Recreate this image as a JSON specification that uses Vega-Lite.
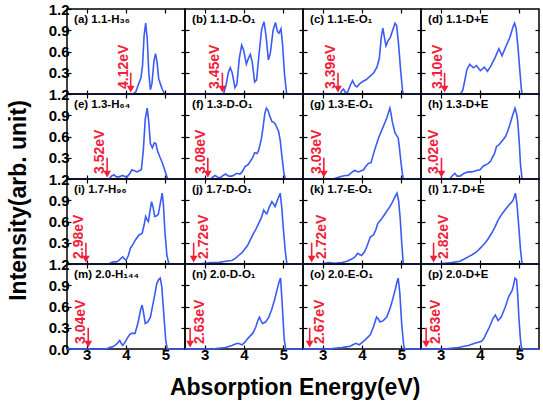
{
"$schema":"https://vega.github.io/schema/vega-lite/v6.json",
"padding":{"left":8,"top":1,"right":2,"bottom":4},
"datasets":{
"ann":[
{"p":"a","gap":4.12,"t":"4.12eV","n":"(a) 1.1-H₃₆"},
{"p":"b","gap":3.45,"t":"3.45eV","n":"(b) 1.1-D-O₁"},
{"p":"c","gap":3.39,"t":"3.39eV","n":"(c) 1.1-E-O₁"},
{"p":"d","gap":3.10,"t":"3.10eV","n":"(d) 1.1-D+E"},
{"p":"e","gap":3.52,"t":"3.52eV","n":"(e) 1.3-H₆₄"},
{"p":"f","gap":3.08,"t":"3.08eV","n":"(f) 1.3-D-O₁"},
{"p":"g","gap":3.03,"t":"3.03eV","n":"(g) 1.3-E-O₁"},
{"p":"h","gap":3.02,"t":"3.02eV","n":"(h) 1.3-D+E"},
{"p":"i","gap":2.98,"t":"2.98eV","n":"(i) 1.7-H₉₆"},
{"p":"j","gap":2.72,"t":"2.72eV","n":"(j) 1.7-D-O₁"},
{"p":"k","gap":2.72,"t":"2.72eV","n":"(k) 1.7-E-O₁"},
{"p":"l","gap":2.82,"t":"2.82eV","n":"(l) 1.7-D+E"},
{"p":"m","gap":3.04,"t":"3.04eV","n":"(m) 2.0-H₁₄₄"},
{"p":"n","gap":2.63,"t":"2.63eV","n":"(n) 2.0-D-O₁"},
{"p":"o","gap":2.67,"t":"2.67eV","n":"(o) 2.0-E-O₁"},
{"p":"p","gap":2.63,"t":"2.63eV","n":"(p) 2.0-D+E"}
],
"s":[
{"p":"a","e":2.5,"i":0},{"p":"a","e":4.18,"i":0},{"p":"a","e":4.25,"i":0.03},{"p":"a","e":4.32,"i":0.14},{"p":"a","e":4.38,"i":0.23},{"p":"a","e":4.42,"i":0.4},{"p":"a","e":4.46,"i":0.82},{"p":"a","e":4.5,"i":1.0},{"p":"a","e":4.54,"i":0.78},{"p":"a","e":4.58,"i":0.3},{"p":"a","e":4.62,"i":0.06},{"p":"a","e":4.66,"i":0.15},{"p":"a","e":4.71,"i":0.46},{"p":"a","e":4.75,"i":0.57},{"p":"a","e":4.79,"i":0.45},{"p":"a","e":4.83,"i":0.22},{"p":"a","e":4.87,"i":0.15},{"p":"a","e":4.92,"i":0.07},{"p":"a","e":4.98,"i":0},{"p":"a","e":5.5,"i":0},
{"p":"b","e":2.5,"i":0},{"p":"b","e":3.48,"i":0},{"p":"b","e":3.55,"i":0.14},{"p":"b","e":3.6,"i":0.3},{"p":"b","e":3.65,"i":0.37},{"p":"b","e":3.7,"i":0.3},{"p":"b","e":3.77,"i":0.09},{"p":"b","e":3.82,"i":0.14},{"p":"b","e":3.88,"i":0.5},{"p":"b","e":3.94,"i":0.69},{"p":"b","e":3.99,"i":0.62},{"p":"b","e":4.06,"i":0.42},{"p":"b","e":4.11,"i":0.5},{"p":"b","e":4.16,"i":0.56},{"p":"b","e":4.21,"i":0.45},{"p":"b","e":4.27,"i":0.17},{"p":"b","e":4.32,"i":0.2},{"p":"b","e":4.38,"i":0.55},{"p":"b","e":4.45,"i":0.92},{"p":"b","e":4.51,"i":1.02},{"p":"b","e":4.56,"i":0.82},{"p":"b","e":4.62,"i":0.48},{"p":"b","e":4.67,"i":0.58},{"p":"b","e":4.74,"i":0.9},{"p":"b","e":4.8,"i":1.01},{"p":"b","e":4.85,"i":0.88},{"p":"b","e":4.89,"i":0.86},{"p":"b","e":4.94,"i":0.92},{"p":"b","e":4.98,"i":0.7},{"p":"b","e":5.03,"i":0.28},{"p":"b","e":5.08,"i":0.02},{"p":"b","e":5.1,"i":0},{"p":"b","e":5.5,"i":0},
{"p":"c","e":2.5,"i":0},{"p":"c","e":3.44,"i":0},{"p":"c","e":3.49,"i":0.05},{"p":"c","e":3.53,"i":0.07},{"p":"c","e":3.58,"i":0.02},{"p":"c","e":3.63,"i":0.02},{"p":"c","e":3.7,"i":0.12},{"p":"c","e":3.76,"i":0.19},{"p":"c","e":3.82,"i":0.12},{"p":"c","e":3.87,"i":0.1},{"p":"c","e":3.95,"i":0.15},{"p":"c","e":4.03,"i":0.18},{"p":"c","e":4.1,"i":0.2},{"p":"c","e":4.2,"i":0.25},{"p":"c","e":4.3,"i":0.3},{"p":"c","e":4.38,"i":0.38},{"p":"c","e":4.44,"i":0.5},{"p":"c","e":4.49,"i":0.8},{"p":"c","e":4.53,"i":0.93},{"p":"c","e":4.57,"i":0.8},{"p":"c","e":4.61,"i":0.68},{"p":"c","e":4.66,"i":0.75},{"p":"c","e":4.72,"i":0.8},{"p":"c","e":4.78,"i":0.9},{"p":"c","e":4.84,"i":1.0},{"p":"c","e":4.88,"i":0.97},{"p":"c","e":4.93,"i":0.7},{"p":"c","e":4.98,"i":0.35},{"p":"c","e":5.03,"i":0.05},{"p":"c","e":5.05,"i":0},{"p":"c","e":5.5,"i":0},
{"p":"d","e":2.5,"i":0},{"p":"d","e":3.5,"i":0},{"p":"d","e":3.56,"i":0.05},{"p":"d","e":3.61,"i":0.18},{"p":"d","e":3.67,"i":0.35},{"p":"d","e":3.74,"i":0.42},{"p":"d","e":3.83,"i":0.37},{"p":"d","e":3.91,"i":0.4},{"p":"d","e":4.01,"i":0.33},{"p":"d","e":4.11,"i":0.38},{"p":"d","e":4.19,"i":0.32},{"p":"d","e":4.28,"i":0.4},{"p":"d","e":4.38,"i":0.51},{"p":"d","e":4.48,"i":0.64},{"p":"d","e":4.56,"i":0.54},{"p":"d","e":4.65,"i":0.66},{"p":"d","e":4.76,"i":0.8},{"p":"d","e":4.84,"i":0.95},{"p":"d","e":4.88,"i":1.0},{"p":"d","e":4.92,"i":0.92},{"p":"d","e":4.96,"i":0.7},{"p":"d","e":5.01,"i":0.35},{"p":"d","e":5.05,"i":0.08},{"p":"d","e":5.07,"i":0},{"p":"d","e":5.5,"i":0},
{"p":"e","e":2.5,"i":0},{"p":"e","e":3.57,"i":0},{"p":"e","e":3.63,"i":0.04},{"p":"e","e":3.69,"i":0.06},{"p":"e","e":3.76,"i":0.03},{"p":"e","e":3.82,"i":0.03},{"p":"e","e":3.92,"i":0.05},{"p":"e","e":4.02,"i":0.02},{"p":"e","e":4.1,"i":0.08},{"p":"e","e":4.15,"i":0.13},{"p":"e","e":4.28,"i":0.1},{"p":"e","e":4.39,"i":0.13},{"p":"e","e":4.44,"i":0.4},{"p":"e","e":4.49,"i":0.85},{"p":"e","e":4.54,"i":1.0},{"p":"e","e":4.58,"i":0.8},{"p":"e","e":4.62,"i":0.5},{"p":"e","e":4.67,"i":0.44},{"p":"e","e":4.72,"i":0.51},{"p":"e","e":4.76,"i":0.5},{"p":"e","e":4.8,"i":0.4},{"p":"e","e":4.87,"i":0.3},{"p":"e","e":4.93,"i":0.22},{"p":"e","e":5.0,"i":0.1},{"p":"e","e":5.06,"i":0},{"p":"e","e":5.5,"i":0},
{"p":"f","e":2.5,"i":0},{"p":"f","e":3.15,"i":0},{"p":"f","e":3.21,"i":0.03},{"p":"f","e":3.27,"i":0.05},{"p":"f","e":3.34,"i":0.02},{"p":"f","e":3.4,"i":0.02},{"p":"f","e":3.47,"i":0.05},{"p":"f","e":3.53,"i":0.07},{"p":"f","e":3.61,"i":0.04},{"p":"f","e":3.69,"i":0.04},{"p":"f","e":3.76,"i":0.06},{"p":"f","e":3.82,"i":0.08},{"p":"f","e":3.9,"i":0.07},{"p":"f","e":3.95,"i":0.1},{"p":"f","e":4.03,"i":0.18},{"p":"f","e":4.1,"i":0.2},{"p":"f","e":4.16,"i":0.25},{"p":"f","e":4.22,"i":0.3},{"p":"f","e":4.27,"i":0.37},{"p":"f","e":4.33,"i":0.36},{"p":"f","e":4.37,"i":0.4},{"p":"f","e":4.44,"i":0.56},{"p":"f","e":4.49,"i":0.75},{"p":"f","e":4.53,"i":0.93},{"p":"f","e":4.57,"i":1.0},{"p":"f","e":4.61,"i":0.97},{"p":"f","e":4.66,"i":0.88},{"p":"f","e":4.71,"i":0.81},{"p":"f","e":4.76,"i":0.8},{"p":"f","e":4.8,"i":0.77},{"p":"f","e":4.88,"i":0.67},{"p":"f","e":4.92,"i":0.55},{"p":"f","e":4.96,"i":0.34},{"p":"f","e":5.01,"i":0.1},{"p":"f","e":5.05,"i":0},{"p":"f","e":5.5,"i":0},
{"p":"g","e":2.5,"i":0},{"p":"g","e":3.27,"i":0},{"p":"g","e":3.38,"i":0.02},{"p":"g","e":3.49,"i":0.04},{"p":"g","e":3.58,"i":0.05},{"p":"g","e":3.65,"i":0.05},{"p":"g","e":3.73,"i":0.09},{"p":"g","e":3.81,"i":0.12},{"p":"g","e":3.91,"i":0.1},{"p":"g","e":4.04,"i":0.13},{"p":"g","e":4.1,"i":0.18},{"p":"g","e":4.16,"i":0.22},{"p":"g","e":4.23,"i":0.23},{"p":"g","e":4.31,"i":0.39},{"p":"g","e":4.42,"i":0.58},{"p":"g","e":4.54,"i":0.74},{"p":"g","e":4.63,"i":0.86},{"p":"g","e":4.68,"i":0.95},{"p":"g","e":4.71,"i":1.0},{"p":"g","e":4.74,"i":0.92},{"p":"g","e":4.77,"i":0.81},{"p":"g","e":4.84,"i":0.65},{"p":"g","e":4.92,"i":0.58},{"p":"g","e":4.95,"i":0.45},{"p":"g","e":4.98,"i":0.29},{"p":"g","e":5.02,"i":0.1},{"p":"g","e":5.05,"i":0},{"p":"g","e":5.5,"i":0},
{"p":"h","e":2.5,"i":0},{"p":"h","e":3.23,"i":0},{"p":"h","e":3.3,"i":0.05},{"p":"h","e":3.36,"i":0.08},{"p":"h","e":3.42,"i":0.04},{"p":"h","e":3.49,"i":0.04},{"p":"h","e":3.6,"i":0.08},{"p":"h","e":3.7,"i":0.1},{"p":"h","e":3.8,"i":0.1},{"p":"h","e":3.91,"i":0.12},{"p":"h","e":4.0,"i":0.13},{"p":"h","e":4.08,"i":0.18},{"p":"h","e":4.15,"i":0.2},{"p":"h","e":4.21,"i":0.22},{"p":"h","e":4.27,"i":0.25},{"p":"h","e":4.31,"i":0.3},{"p":"h","e":4.37,"i":0.36},{"p":"h","e":4.42,"i":0.46},{"p":"h","e":4.48,"i":0.48},{"p":"h","e":4.55,"i":0.53},{"p":"h","e":4.65,"i":0.6},{"p":"h","e":4.7,"i":0.67},{"p":"h","e":4.76,"i":0.77},{"p":"h","e":4.83,"i":0.9},{"p":"h","e":4.89,"i":1.0},{"p":"h","e":4.93,"i":0.92},{"p":"h","e":4.96,"i":0.81},{"p":"h","e":5.0,"i":0.5},{"p":"h","e":5.03,"i":0.2},{"p":"h","e":5.07,"i":0},{"p":"h","e":5.5,"i":0},
{"p":"i","e":2.5,"i":0},{"p":"i","e":3.57,"i":0},{"p":"i","e":3.63,"i":0.02},{"p":"i","e":3.69,"i":0.03},{"p":"i","e":3.76,"i":0.03},{"p":"i","e":3.82,"i":0.05},{"p":"i","e":3.87,"i":0.08},{"p":"i","e":3.92,"i":0.1},{"p":"i","e":3.96,"i":0.07},{"p":"i","e":4.0,"i":0.05},{"p":"i","e":4.06,"i":0.12},{"p":"i","e":4.11,"i":0.22},{"p":"i","e":4.18,"i":0.28},{"p":"i","e":4.24,"i":0.34},{"p":"i","e":4.33,"i":0.41},{"p":"i","e":4.41,"i":0.43},{"p":"i","e":4.46,"i":0.55},{"p":"i","e":4.5,"i":0.67},{"p":"i","e":4.54,"i":0.62},{"p":"i","e":4.57,"i":0.6},{"p":"i","e":4.61,"i":0.75},{"p":"i","e":4.65,"i":0.88},{"p":"i","e":4.69,"i":0.8},{"p":"i","e":4.73,"i":0.67},{"p":"i","e":4.78,"i":0.68},{"p":"i","e":4.82,"i":0.7},{"p":"i","e":4.87,"i":0.85},{"p":"i","e":4.92,"i":1.0},{"p":"i","e":4.95,"i":0.85},{"p":"i","e":4.99,"i":0.45},{"p":"i","e":5.04,"i":0.12},{"p":"i","e":5.09,"i":0},{"p":"i","e":5.5,"i":0},
{"p":"j","e":2.5,"i":0},{"p":"j","e":2.85,"i":0},{"p":"j","e":3.0,"i":0.01},{"p":"j","e":3.19,"i":0.02},{"p":"j","e":3.35,"i":0.02},{"p":"j","e":3.53,"i":0.04},{"p":"j","e":3.69,"i":0.05},{"p":"j","e":3.78,"i":0.08},{"p":"j","e":3.86,"i":0.12},{"p":"j","e":3.95,"i":0.16},{"p":"j","e":4.03,"i":0.22},{"p":"j","e":4.09,"i":0.26},{"p":"j","e":4.14,"i":0.32},{"p":"j","e":4.24,"i":0.43},{"p":"j","e":4.31,"i":0.5},{"p":"j","e":4.37,"i":0.57},{"p":"j","e":4.44,"i":0.65},{"p":"j","e":4.5,"i":0.76},{"p":"j","e":4.55,"i":0.72},{"p":"j","e":4.58,"i":0.71},{"p":"j","e":4.64,"i":0.8},{"p":"j","e":4.71,"i":0.88},{"p":"j","e":4.76,"i":0.84},{"p":"j","e":4.79,"i":0.81},{"p":"j","e":4.85,"i":0.9},{"p":"j","e":4.92,"i":1.0},{"p":"j","e":4.96,"i":0.8},{"p":"j","e":5.0,"i":0.5},{"p":"j","e":5.05,"i":0.18},{"p":"j","e":5.09,"i":0},{"p":"j","e":5.5,"i":0},
{"p":"k","e":2.5,"i":0},{"p":"k","e":2.98,"i":0},{"p":"k","e":3.15,"i":0.02},{"p":"k","e":3.3,"i":0.01},{"p":"k","e":3.49,"i":0.02},{"p":"k","e":3.62,"i":0.04},{"p":"k","e":3.74,"i":0.07},{"p":"k","e":3.82,"i":0.1},{"p":"k","e":3.89,"i":0.15},{"p":"k","e":3.95,"i":0.13},{"p":"k","e":3.99,"i":0.12},{"p":"k","e":4.06,"i":0.17},{"p":"k","e":4.12,"i":0.24},{"p":"k","e":4.21,"i":0.38},{"p":"k","e":4.29,"i":0.41},{"p":"k","e":4.35,"i":0.48},{"p":"k","e":4.4,"i":0.57},{"p":"k","e":4.5,"i":0.64},{"p":"k","e":4.6,"i":0.72},{"p":"k","e":4.71,"i":0.81},{"p":"k","e":4.78,"i":0.88},{"p":"k","e":4.84,"i":0.95},{"p":"k","e":4.89,"i":1.0},{"p":"k","e":4.93,"i":0.9},{"p":"k","e":4.97,"i":0.65},{"p":"k","e":5.01,"i":0.3},{"p":"k","e":5.05,"i":0},{"p":"k","e":5.5,"i":0},
{"p":"l","e":2.5,"i":0},{"p":"l","e":2.98,"i":0},{"p":"l","e":3.1,"i":0.01},{"p":"l","e":3.28,"i":0.02},{"p":"l","e":3.49,"i":0.04},{"p":"l","e":3.6,"i":0.07},{"p":"l","e":3.7,"i":0.1},{"p":"l","e":3.8,"i":0.13},{"p":"l","e":3.91,"i":0.17},{"p":"l","e":4.0,"i":0.22},{"p":"l","e":4.12,"i":0.29},{"p":"l","e":4.2,"i":0.35},{"p":"l","e":4.29,"i":0.43},{"p":"l","e":4.38,"i":0.52},{"p":"l","e":4.46,"i":0.62},{"p":"l","e":4.55,"i":0.7},{"p":"l","e":4.63,"i":0.76},{"p":"l","e":4.73,"i":0.83},{"p":"l","e":4.8,"i":0.87},{"p":"l","e":4.84,"i":0.9},{"p":"l","e":4.9,"i":1.0},{"p":"l","e":4.94,"i":0.85},{"p":"l","e":4.99,"i":0.5},{"p":"l","e":5.03,"i":0.2},{"p":"l","e":5.07,"i":0},{"p":"l","e":5.5,"i":0},
{"p":"m","e":2.5,"i":0},{"p":"m","e":3.5,"i":0},{"p":"m","e":3.58,"i":0.02},{"p":"m","e":3.65,"i":0.03},{"p":"m","e":3.72,"i":0.05},{"p":"m","e":3.78,"i":0.08},{"p":"m","e":3.84,"i":0.12},{"p":"m","e":3.88,"i":0.08},{"p":"m","e":3.92,"i":0.05},{"p":"m","e":3.98,"i":0.1},{"p":"m","e":4.03,"i":0.15},{"p":"m","e":4.09,"i":0.2},{"p":"m","e":4.14,"i":0.22},{"p":"m","e":4.23,"i":0.22},{"p":"m","e":4.27,"i":0.3},{"p":"m","e":4.31,"i":0.38},{"p":"m","e":4.37,"i":0.55},{"p":"m","e":4.41,"i":0.62},{"p":"m","e":4.45,"i":0.5},{"p":"m","e":4.49,"i":0.36},{"p":"m","e":4.55,"i":0.38},{"p":"m","e":4.62,"i":0.45},{"p":"m","e":4.68,"i":0.62},{"p":"m","e":4.73,"i":0.76},{"p":"m","e":4.78,"i":0.92},{"p":"m","e":4.83,"i":0.98},{"p":"m","e":4.87,"i":1.0},{"p":"m","e":4.91,"i":0.88},{"p":"m","e":4.96,"i":0.5},{"p":"m","e":5.01,"i":0.12},{"p":"m","e":5.05,"i":0},{"p":"m","e":5.5,"i":0},
{"p":"n","e":2.5,"i":0},{"p":"n","e":3.2,"i":0},{"p":"n","e":3.35,"i":0.01},{"p":"n","e":3.53,"i":0.02},{"p":"n","e":3.69,"i":0.05},{"p":"n","e":3.78,"i":0.07},{"p":"n","e":3.85,"i":0.08},{"p":"n","e":3.95,"i":0.06},{"p":"n","e":4.03,"i":0.1},{"p":"n","e":4.1,"i":0.15},{"p":"n","e":4.22,"i":0.22},{"p":"n","e":4.3,"i":0.31},{"p":"n","e":4.35,"i":0.4},{"p":"n","e":4.39,"i":0.45},{"p":"n","e":4.43,"i":0.4},{"p":"n","e":4.47,"i":0.36},{"p":"n","e":4.55,"i":0.38},{"p":"n","e":4.63,"i":0.45},{"p":"n","e":4.7,"i":0.55},{"p":"n","e":4.78,"i":0.7},{"p":"n","e":4.85,"i":0.86},{"p":"n","e":4.9,"i":0.96},{"p":"n","e":4.93,"i":1.0},{"p":"n","e":4.97,"i":0.65},{"p":"n","e":5.02,"i":0.15},{"p":"n","e":5.06,"i":0},{"p":"n","e":5.5,"i":0},
{"p":"o","e":2.5,"i":0},{"p":"o","e":3.15,"i":0},{"p":"o","e":3.3,"i":0.01},{"p":"o","e":3.49,"i":0.02},{"p":"o","e":3.6,"i":0.03},{"p":"o","e":3.7,"i":0.04},{"p":"o","e":3.77,"i":0.06},{"p":"o","e":3.84,"i":0.08},{"p":"o","e":3.93,"i":0.06},{"p":"o","e":4.0,"i":0.09},{"p":"o","e":4.08,"i":0.13},{"p":"o","e":4.21,"i":0.2},{"p":"o","e":4.29,"i":0.31},{"p":"o","e":4.33,"i":0.38},{"p":"o","e":4.37,"i":0.45},{"p":"o","e":4.42,"i":0.42},{"p":"o","e":4.46,"i":0.38},{"p":"o","e":4.54,"i":0.4},{"p":"o","e":4.63,"i":0.45},{"p":"o","e":4.71,"i":0.57},{"p":"o","e":4.78,"i":0.7},{"p":"o","e":4.85,"i":0.85},{"p":"o","e":4.9,"i":0.97},{"p":"o","e":4.92,"i":1.0},{"p":"o","e":4.96,"i":0.8},{"p":"o","e":5.01,"i":0.35},{"p":"o","e":5.06,"i":0.05},{"p":"o","e":5.09,"i":0},{"p":"o","e":5.5,"i":0},
{"p":"p","e":2.5,"i":0},{"p":"p","e":3.1,"i":0},{"p":"p","e":3.25,"i":0.01},{"p":"p","e":3.45,"i":0.02},{"p":"p","e":3.6,"i":0.04},{"p":"p","e":3.7,"i":0.05},{"p":"p","e":3.87,"i":0.08},{"p":"p","e":4.04,"i":0.11},{"p":"p","e":4.1,"i":0.15},{"p":"p","e":4.16,"i":0.22},{"p":"p","e":4.24,"i":0.31},{"p":"p","e":4.33,"i":0.43},{"p":"p","e":4.39,"i":0.48},{"p":"p","e":4.46,"i":0.4},{"p":"p","e":4.54,"i":0.45},{"p":"p","e":4.64,"i":0.59},{"p":"p","e":4.73,"i":0.74},{"p":"p","e":4.82,"i":0.83},{"p":"p","e":4.86,"i":0.92},{"p":"p","e":4.89,"i":1.0},{"p":"p","e":4.93,"i":0.98},{"p":"p","e":4.96,"i":0.75},{"p":"p","e":4.99,"i":0.43},{"p":"p","e":5.03,"i":0.12},{"p":"p","e":5.06,"i":0},{"p":"p","e":5.5,"i":0}
]},
"title":{"text":"Intensity(arb. unit)","orient":"left","anchor":"middle","offset":16,"dx":0,"font":"Liberation Sans","fontSize":23,"fontWeight":"bold","color":"#000"},
"spacing":0,
"vconcat":[{
"title":{"text":"Absorption Energy(eV)","orient":"bottom","anchor":"middle","offset":14,"font":"Liberation Sans","fontSize":23,"fontWeight":"bold","color":"#000"},
"columns":4,"spacing":0,"bounds":"flush",
"concat":[
{"data":{"name":"ann"},"transform":[{"filter":"datum.p=='a'"}],"width":118,"height":85,"resolve":{"axis":{"x":"independent","y":"independent"}},"layer":[
{"data":{"name":"s"},"transform":[{"filter":"datum.p=='a'"}],"mark":"line","encoding":{"x":{"field":"e","type":"quantitative","scale":{"domain":[2.5,5.5],"nice":false,"zero":false},"axis":{"title":null,"values":[3,4,5],"labels":false}},"y":{"field":"i","type":"quantitative","scale":{"domain":[0,1.2],"nice":false},"axis":{"title":null,"values":[0.3,0.6,0.9,1.2],"format":".1f"}}}},
{"mark":"rule","encoding":{"x":{"field":"gap","type":"quantitative","axis":{"title":null,"orient":"top","values":[3,4,5],"labels":false}},"y":{"datum":0.3,"type":"quantitative","axis":{"title":null,"orient":"right","values":[0.3,0.6,0.9],"labels":false}},"y2":{"datum":0.08}}},
{"mark":"point","encoding":{"x":{"field":"gap","type":"quantitative","axis":null},"y":{"datum":0.07,"type":"quantitative","axis":null}}},
{"mark":{"type":"text","angle":270,"align":"left","fontSize":14,"color":"#f0203a","baseline":{"expr":"datum.gap > 2.9 ? 'alphabetic' : 'top'"},"dx":5,"dy":{"expr":"datum.gap > 2.9 ? -3 : 3"}},"encoding":{"x":{"field":"gap","type":"quantitative","axis":null},"y":{"datum":0,"type":"quantitative","axis":null},"text":{"field":"t"}}},
{"mark":{"type":"text","align":"left","baseline":"middle","fontSize":11.5},"encoding":{"x":{"datum":2.68,"type":"quantitative","axis":null},"y":{"datum":1.04,"type":"quantitative","axis":null},"text":{"field":"n"}}}]},
{"data":{"name":"ann"},"transform":[{"filter":"datum.p=='b'"}],"width":118,"height":85,"resolve":{"axis":{"x":"independent","y":"independent"}},"layer":[
{"data":{"name":"s"},"transform":[{"filter":"datum.p=='b'"}],"mark":"line","encoding":{"x":{"field":"e","type":"quantitative","scale":{"domain":[2.5,5.5],"nice":false,"zero":false},"axis":{"title":null,"values":[3,4,5],"labels":false}},"y":{"field":"i","type":"quantitative","scale":{"domain":[0,1.2],"nice":false},"axis":{"title":null,"values":[0.3,0.6,0.9],"labels":false}}}},
{"mark":"rule","encoding":{"x":{"field":"gap","type":"quantitative","axis":{"title":null,"orient":"top","values":[3,4,5],"labels":false}},"y":{"datum":0.3,"type":"quantitative","axis":{"title":null,"orient":"right","values":[0.3,0.6,0.9],"labels":false}},"y2":{"datum":0.08}}},
{"mark":"point","encoding":{"x":{"field":"gap","type":"quantitative","axis":null},"y":{"datum":0.07,"type":"quantitative","axis":null}}},
{"mark":{"type":"text","angle":270,"align":"left","fontSize":14,"color":"#f0203a","baseline":{"expr":"datum.gap > 2.9 ? 'alphabetic' : 'top'"},"dx":5,"dy":{"expr":"datum.gap > 2.9 ? -3 : 3"}},"encoding":{"x":{"field":"gap","type":"quantitative","axis":null},"y":{"datum":0,"type":"quantitative","axis":null},"text":{"field":"t"}}},
{"mark":{"type":"text","align":"left","baseline":"middle","fontSize":11.5},"encoding":{"x":{"datum":2.68,"type":"quantitative","axis":null},"y":{"datum":1.04,"type":"quantitative","axis":null},"text":{"field":"n"}}}]},
{"data":{"name":"ann"},"transform":[{"filter":"datum.p=='c'"}],"width":118,"height":85,"resolve":{"axis":{"x":"independent","y":"independent"}},"layer":[
{"data":{"name":"s"},"transform":[{"filter":"datum.p=='c'"}],"mark":"line","encoding":{"x":{"field":"e","type":"quantitative","scale":{"domain":[2.5,5.5],"nice":false,"zero":false},"axis":{"title":null,"values":[3,4,5],"labels":false}},"y":{"field":"i","type":"quantitative","scale":{"domain":[0,1.2],"nice":false},"axis":{"title":null,"values":[0.3,0.6,0.9],"labels":false}}}},
{"mark":"rule","encoding":{"x":{"field":"gap","type":"quantitative","axis":{"title":null,"orient":"top","values":[3,4,5],"labels":false}},"y":{"datum":0.3,"type":"quantitative","axis":{"title":null,"orient":"right","values":[0.3,0.6,0.9],"labels":false}},"y2":{"datum":0.08}}},
{"mark":"point","encoding":{"x":{"field":"gap","type":"quantitative","axis":null},"y":{"datum":0.07,"type":"quantitative","axis":null}}},
{"mark":{"type":"text","angle":270,"align":"left","fontSize":14,"color":"#f0203a","baseline":{"expr":"datum.gap > 2.9 ? 'alphabetic' : 'top'"},"dx":5,"dy":{"expr":"datum.gap > 2.9 ? -3 : 3"}},"encoding":{"x":{"field":"gap","type":"quantitative","axis":null},"y":{"datum":0,"type":"quantitative","axis":null},"text":{"field":"t"}}},
{"mark":{"type":"text","align":"left","baseline":"middle","fontSize":11.5},"encoding":{"x":{"datum":2.68,"type":"quantitative","axis":null},"y":{"datum":1.04,"type":"quantitative","axis":null},"text":{"field":"n"}}}]},
{"data":{"name":"ann"},"transform":[{"filter":"datum.p=='d'"}],"width":118,"height":85,"resolve":{"axis":{"x":"independent","y":"independent"}},"layer":[
{"data":{"name":"s"},"transform":[{"filter":"datum.p=='d'"}],"mark":"line","encoding":{"x":{"field":"e","type":"quantitative","scale":{"domain":[2.5,5.5],"nice":false,"zero":false},"axis":{"title":null,"values":[3,4,5],"labels":false}},"y":{"field":"i","type":"quantitative","scale":{"domain":[0,1.2],"nice":false},"axis":{"title":null,"values":[0.3,0.6,0.9],"labels":false}}}},
{"mark":"rule","encoding":{"x":{"field":"gap","type":"quantitative","axis":{"title":null,"orient":"top","values":[3,4,5],"labels":false}},"y":{"datum":0.3,"type":"quantitative","axis":{"title":null,"orient":"right","values":[0.3,0.6,0.9],"labels":false}},"y2":{"datum":0.08}}},
{"mark":"point","encoding":{"x":{"field":"gap","type":"quantitative","axis":null},"y":{"datum":0.07,"type":"quantitative","axis":null}}},
{"mark":{"type":"text","angle":270,"align":"left","fontSize":14,"color":"#f0203a","baseline":{"expr":"datum.gap > 2.9 ? 'alphabetic' : 'top'"},"dx":5,"dy":{"expr":"datum.gap > 2.9 ? -3 : 3"}},"encoding":{"x":{"field":"gap","type":"quantitative","axis":null},"y":{"datum":0,"type":"quantitative","axis":null},"text":{"field":"t"}}},
{"mark":{"type":"text","align":"left","baseline":"middle","fontSize":11.5},"encoding":{"x":{"datum":2.68,"type":"quantitative","axis":null},"y":{"datum":1.04,"type":"quantitative","axis":null},"text":{"field":"n"}}}]},
{"data":{"name":"ann"},"transform":[{"filter":"datum.p=='e'"}],"width":118,"height":85,"resolve":{"axis":{"x":"independent","y":"independent"}},"layer":[
{"data":{"name":"s"},"transform":[{"filter":"datum.p=='e'"}],"mark":"line","encoding":{"x":{"field":"e","type":"quantitative","scale":{"domain":[2.5,5.5],"nice":false,"zero":false},"axis":{"title":null,"values":[3,4,5],"labels":false}},"y":{"field":"i","type":"quantitative","scale":{"domain":[0,1.2],"nice":false},"axis":{"title":null,"values":[0.3,0.6,0.9,1.2],"format":".1f"}}}},
{"mark":"rule","encoding":{"x":{"field":"gap","type":"quantitative","axis":{"title":null,"orient":"top","values":[3,4,5],"labels":false}},"y":{"datum":0.3,"type":"quantitative","axis":{"title":null,"orient":"right","values":[0.3,0.6,0.9],"labels":false}},"y2":{"datum":0.08}}},
{"mark":"point","encoding":{"x":{"field":"gap","type":"quantitative","axis":null},"y":{"datum":0.07,"type":"quantitative","axis":null}}},
{"mark":{"type":"text","angle":270,"align":"left","fontSize":14,"color":"#f0203a","baseline":{"expr":"datum.gap > 2.9 ? 'alphabetic' : 'top'"},"dx":5,"dy":{"expr":"datum.gap > 2.9 ? -3 : 3"}},"encoding":{"x":{"field":"gap","type":"quantitative","axis":null},"y":{"datum":0,"type":"quantitative","axis":null},"text":{"field":"t"}}},
{"mark":{"type":"text","align":"left","baseline":"middle","fontSize":11.5},"encoding":{"x":{"datum":2.68,"type":"quantitative","axis":null},"y":{"datum":1.04,"type":"quantitative","axis":null},"text":{"field":"n"}}}]},
{"data":{"name":"ann"},"transform":[{"filter":"datum.p=='f'"}],"width":118,"height":85,"resolve":{"axis":{"x":"independent","y":"independent"}},"layer":[
{"data":{"name":"s"},"transform":[{"filter":"datum.p=='f'"}],"mark":"line","encoding":{"x":{"field":"e","type":"quantitative","scale":{"domain":[2.5,5.5],"nice":false,"zero":false},"axis":{"title":null,"values":[3,4,5],"labels":false}},"y":{"field":"i","type":"quantitative","scale":{"domain":[0,1.2],"nice":false},"axis":{"title":null,"values":[0.3,0.6,0.9],"labels":false}}}},
{"mark":"rule","encoding":{"x":{"field":"gap","type":"quantitative","axis":{"title":null,"orient":"top","values":[3,4,5],"labels":false}},"y":{"datum":0.3,"type":"quantitative","axis":{"title":null,"orient":"right","values":[0.3,0.6,0.9],"labels":false}},"y2":{"datum":0.08}}},
{"mark":"point","encoding":{"x":{"field":"gap","type":"quantitative","axis":null},"y":{"datum":0.07,"type":"quantitative","axis":null}}},
{"mark":{"type":"text","angle":270,"align":"left","fontSize":14,"color":"#f0203a","baseline":{"expr":"datum.gap > 2.9 ? 'alphabetic' : 'top'"},"dx":5,"dy":{"expr":"datum.gap > 2.9 ? -3 : 3"}},"encoding":{"x":{"field":"gap","type":"quantitative","axis":null},"y":{"datum":0,"type":"quantitative","axis":null},"text":{"field":"t"}}},
{"mark":{"type":"text","align":"left","baseline":"middle","fontSize":11.5},"encoding":{"x":{"datum":2.68,"type":"quantitative","axis":null},"y":{"datum":1.04,"type":"quantitative","axis":null},"text":{"field":"n"}}}]},
{"data":{"name":"ann"},"transform":[{"filter":"datum.p=='g'"}],"width":118,"height":85,"resolve":{"axis":{"x":"independent","y":"independent"}},"layer":[
{"data":{"name":"s"},"transform":[{"filter":"datum.p=='g'"}],"mark":"line","encoding":{"x":{"field":"e","type":"quantitative","scale":{"domain":[2.5,5.5],"nice":false,"zero":false},"axis":{"title":null,"values":[3,4,5],"labels":false}},"y":{"field":"i","type":"quantitative","scale":{"domain":[0,1.2],"nice":false},"axis":{"title":null,"values":[0.3,0.6,0.9],"labels":false}}}},
{"mark":"rule","encoding":{"x":{"field":"gap","type":"quantitative","axis":{"title":null,"orient":"top","values":[3,4,5],"labels":false}},"y":{"datum":0.3,"type":"quantitative","axis":{"title":null,"orient":"right","values":[0.3,0.6,0.9],"labels":false}},"y2":{"datum":0.08}}},
{"mark":"point","encoding":{"x":{"field":"gap","type":"quantitative","axis":null},"y":{"datum":0.07,"type":"quantitative","axis":null}}},
{"mark":{"type":"text","angle":270,"align":"left","fontSize":14,"color":"#f0203a","baseline":{"expr":"datum.gap > 2.9 ? 'alphabetic' : 'top'"},"dx":5,"dy":{"expr":"datum.gap > 2.9 ? -3 : 3"}},"encoding":{"x":{"field":"gap","type":"quantitative","axis":null},"y":{"datum":0,"type":"quantitative","axis":null},"text":{"field":"t"}}},
{"mark":{"type":"text","align":"left","baseline":"middle","fontSize":11.5},"encoding":{"x":{"datum":2.68,"type":"quantitative","axis":null},"y":{"datum":1.04,"type":"quantitative","axis":null},"text":{"field":"n"}}}]},
{"data":{"name":"ann"},"transform":[{"filter":"datum.p=='h'"}],"width":118,"height":85,"resolve":{"axis":{"x":"independent","y":"independent"}},"layer":[
{"data":{"name":"s"},"transform":[{"filter":"datum.p=='h'"}],"mark":"line","encoding":{"x":{"field":"e","type":"quantitative","scale":{"domain":[2.5,5.5],"nice":false,"zero":false},"axis":{"title":null,"values":[3,4,5],"labels":false}},"y":{"field":"i","type":"quantitative","scale":{"domain":[0,1.2],"nice":false},"axis":{"title":null,"values":[0.3,0.6,0.9],"labels":false}}}},
{"mark":"rule","encoding":{"x":{"field":"gap","type":"quantitative","axis":{"title":null,"orient":"top","values":[3,4,5],"labels":false}},"y":{"datum":0.3,"type":"quantitative","axis":{"title":null,"orient":"right","values":[0.3,0.6,0.9],"labels":false}},"y2":{"datum":0.08}}},
{"mark":"point","encoding":{"x":{"field":"gap","type":"quantitative","axis":null},"y":{"datum":0.07,"type":"quantitative","axis":null}}},
{"mark":{"type":"text","angle":270,"align":"left","fontSize":14,"color":"#f0203a","baseline":{"expr":"datum.gap > 2.9 ? 'alphabetic' : 'top'"},"dx":5,"dy":{"expr":"datum.gap > 2.9 ? -3 : 3"}},"encoding":{"x":{"field":"gap","type":"quantitative","axis":null},"y":{"datum":0,"type":"quantitative","axis":null},"text":{"field":"t"}}},
{"mark":{"type":"text","align":"left","baseline":"middle","fontSize":11.5},"encoding":{"x":{"datum":2.68,"type":"quantitative","axis":null},"y":{"datum":1.04,"type":"quantitative","axis":null},"text":{"field":"n"}}}]},
{"data":{"name":"ann"},"transform":[{"filter":"datum.p=='i'"}],"width":118,"height":85,"resolve":{"axis":{"x":"independent","y":"independent"}},"layer":[
{"data":{"name":"s"},"transform":[{"filter":"datum.p=='i'"}],"mark":"line","encoding":{"x":{"field":"e","type":"quantitative","scale":{"domain":[2.5,5.5],"nice":false,"zero":false},"axis":{"title":null,"values":[3,4,5],"labels":false}},"y":{"field":"i","type":"quantitative","scale":{"domain":[0,1.2],"nice":false},"axis":{"title":null,"values":[0.3,0.6,0.9,1.2],"format":".1f"}}}},
{"mark":"rule","encoding":{"x":{"field":"gap","type":"quantitative","axis":{"title":null,"orient":"top","values":[3,4,5],"labels":false}},"y":{"datum":0.3,"type":"quantitative","axis":{"title":null,"orient":"right","values":[0.3,0.6,0.9],"labels":false}},"y2":{"datum":0.08}}},
{"mark":"point","encoding":{"x":{"field":"gap","type":"quantitative","axis":null},"y":{"datum":0.07,"type":"quantitative","axis":null}}},
{"mark":{"type":"text","angle":270,"align":"left","fontSize":14,"color":"#f0203a","baseline":{"expr":"datum.gap > 2.9 ? 'alphabetic' : 'top'"},"dx":5,"dy":{"expr":"datum.gap > 2.9 ? -3 : 3"}},"encoding":{"x":{"field":"gap","type":"quantitative","axis":null},"y":{"datum":0,"type":"quantitative","axis":null},"text":{"field":"t"}}},
{"mark":{"type":"text","align":"left","baseline":"middle","fontSize":11.5},"encoding":{"x":{"datum":2.68,"type":"quantitative","axis":null},"y":{"datum":1.04,"type":"quantitative","axis":null},"text":{"field":"n"}}}]},
{"data":{"name":"ann"},"transform":[{"filter":"datum.p=='j'"}],"width":118,"height":85,"resolve":{"axis":{"x":"independent","y":"independent"}},"layer":[
{"data":{"name":"s"},"transform":[{"filter":"datum.p=='j'"}],"mark":"line","encoding":{"x":{"field":"e","type":"quantitative","scale":{"domain":[2.5,5.5],"nice":false,"zero":false},"axis":{"title":null,"values":[3,4,5],"labels":false}},"y":{"field":"i","type":"quantitative","scale":{"domain":[0,1.2],"nice":false},"axis":{"title":null,"values":[0.3,0.6,0.9],"labels":false}}}},
{"mark":"rule","encoding":{"x":{"field":"gap","type":"quantitative","axis":{"title":null,"orient":"top","values":[3,4,5],"labels":false}},"y":{"datum":0.3,"type":"quantitative","axis":{"title":null,"orient":"right","values":[0.3,0.6,0.9],"labels":false}},"y2":{"datum":0.08}}},
{"mark":"point","encoding":{"x":{"field":"gap","type":"quantitative","axis":null},"y":{"datum":0.07,"type":"quantitative","axis":null}}},
{"mark":{"type":"text","angle":270,"align":"left","fontSize":14,"color":"#f0203a","baseline":{"expr":"datum.gap > 2.9 ? 'alphabetic' : 'top'"},"dx":5,"dy":{"expr":"datum.gap > 2.9 ? -3 : 3"}},"encoding":{"x":{"field":"gap","type":"quantitative","axis":null},"y":{"datum":0,"type":"quantitative","axis":null},"text":{"field":"t"}}},
{"mark":{"type":"text","align":"left","baseline":"middle","fontSize":11.5},"encoding":{"x":{"datum":2.68,"type":"quantitative","axis":null},"y":{"datum":1.04,"type":"quantitative","axis":null},"text":{"field":"n"}}}]},
{"data":{"name":"ann"},"transform":[{"filter":"datum.p=='k'"}],"width":118,"height":85,"resolve":{"axis":{"x":"independent","y":"independent"}},"layer":[
{"data":{"name":"s"},"transform":[{"filter":"datum.p=='k'"}],"mark":"line","encoding":{"x":{"field":"e","type":"quantitative","scale":{"domain":[2.5,5.5],"nice":false,"zero":false},"axis":{"title":null,"values":[3,4,5],"labels":false}},"y":{"field":"i","type":"quantitative","scale":{"domain":[0,1.2],"nice":false},"axis":{"title":null,"values":[0.3,0.6,0.9],"labels":false}}}},
{"mark":"rule","encoding":{"x":{"field":"gap","type":"quantitative","axis":{"title":null,"orient":"top","values":[3,4,5],"labels":false}},"y":{"datum":0.3,"type":"quantitative","axis":{"title":null,"orient":"right","values":[0.3,0.6,0.9],"labels":false}},"y2":{"datum":0.08}}},
{"mark":"point","encoding":{"x":{"field":"gap","type":"quantitative","axis":null},"y":{"datum":0.07,"type":"quantitative","axis":null}}},
{"mark":{"type":"text","angle":270,"align":"left","fontSize":14,"color":"#f0203a","baseline":{"expr":"datum.gap > 2.9 ? 'alphabetic' : 'top'"},"dx":5,"dy":{"expr":"datum.gap > 2.9 ? -3 : 3"}},"encoding":{"x":{"field":"gap","type":"quantitative","axis":null},"y":{"datum":0,"type":"quantitative","axis":null},"text":{"field":"t"}}},
{"mark":{"type":"text","align":"left","baseline":"middle","fontSize":11.5},"encoding":{"x":{"datum":2.68,"type":"quantitative","axis":null},"y":{"datum":1.04,"type":"quantitative","axis":null},"text":{"field":"n"}}}]},
{"data":{"name":"ann"},"transform":[{"filter":"datum.p=='l'"}],"width":118,"height":85,"resolve":{"axis":{"x":"independent","y":"independent"}},"layer":[
{"data":{"name":"s"},"transform":[{"filter":"datum.p=='l'"}],"mark":"line","encoding":{"x":{"field":"e","type":"quantitative","scale":{"domain":[2.5,5.5],"nice":false,"zero":false},"axis":{"title":null,"values":[3,4,5],"labels":false}},"y":{"field":"i","type":"quantitative","scale":{"domain":[0,1.2],"nice":false},"axis":{"title":null,"values":[0.3,0.6,0.9],"labels":false}}}},
{"mark":"rule","encoding":{"x":{"field":"gap","type":"quantitative","axis":{"title":null,"orient":"top","values":[3,4,5],"labels":false}},"y":{"datum":0.3,"type":"quantitative","axis":{"title":null,"orient":"right","values":[0.3,0.6,0.9],"labels":false}},"y2":{"datum":0.08}}},
{"mark":"point","encoding":{"x":{"field":"gap","type":"quantitative","axis":null},"y":{"datum":0.07,"type":"quantitative","axis":null}}},
{"mark":{"type":"text","angle":270,"align":"left","fontSize":14,"color":"#f0203a","baseline":{"expr":"datum.gap > 2.9 ? 'alphabetic' : 'top'"},"dx":5,"dy":{"expr":"datum.gap > 2.9 ? -3 : 3"}},"encoding":{"x":{"field":"gap","type":"quantitative","axis":null},"y":{"datum":0,"type":"quantitative","axis":null},"text":{"field":"t"}}},
{"mark":{"type":"text","align":"left","baseline":"middle","fontSize":11.5},"encoding":{"x":{"datum":2.68,"type":"quantitative","axis":null},"y":{"datum":1.04,"type":"quantitative","axis":null},"text":{"field":"n"}}}]},
{"data":{"name":"ann"},"transform":[{"filter":"datum.p=='m'"}],"width":118,"height":85,"resolve":{"axis":{"x":"independent","y":"independent"}},"layer":[
{"data":{"name":"s"},"transform":[{"filter":"datum.p=='m'"}],"mark":"line","encoding":{"x":{"field":"e","type":"quantitative","scale":{"domain":[2.5,5.5],"nice":false,"zero":false},"axis":{"title":null,"values":[3,4,5],"format":"d"}},"y":{"field":"i","type":"quantitative","scale":{"domain":[0,1.2],"nice":false},"axis":{"title":null,"values":[0,0.3,0.6,0.9,1.2],"format":".1f"}}}},
{"mark":"rule","encoding":{"x":{"field":"gap","type":"quantitative","axis":{"title":null,"orient":"top","values":[3,4,5],"labels":false}},"y":{"datum":0.3,"type":"quantitative","axis":{"title":null,"orient":"right","values":[0.3,0.6,0.9],"labels":false}},"y2":{"datum":0.08}}},
{"mark":"point","encoding":{"x":{"field":"gap","type":"quantitative","axis":null},"y":{"datum":0.07,"type":"quantitative","axis":null}}},
{"mark":{"type":"text","angle":270,"align":"left","fontSize":14,"color":"#f0203a","baseline":{"expr":"datum.gap > 2.9 ? 'alphabetic' : 'top'"},"dx":5,"dy":{"expr":"datum.gap > 2.9 ? -3 : 3"}},"encoding":{"x":{"field":"gap","type":"quantitative","axis":null},"y":{"datum":0,"type":"quantitative","axis":null},"text":{"field":"t"}}},
{"mark":{"type":"text","align":"left","baseline":"middle","fontSize":11.5},"encoding":{"x":{"datum":2.68,"type":"quantitative","axis":null},"y":{"datum":1.04,"type":"quantitative","axis":null},"text":{"field":"n"}}}]},
{"data":{"name":"ann"},"transform":[{"filter":"datum.p=='n'"}],"width":118,"height":85,"resolve":{"axis":{"x":"independent","y":"independent"}},"layer":[
{"data":{"name":"s"},"transform":[{"filter":"datum.p=='n'"}],"mark":"line","encoding":{"x":{"field":"e","type":"quantitative","scale":{"domain":[2.5,5.5],"nice":false,"zero":false},"axis":{"title":null,"values":[3,4,5],"format":"d"}},"y":{"field":"i","type":"quantitative","scale":{"domain":[0,1.2],"nice":false},"axis":{"title":null,"values":[0.3,0.6,0.9],"labels":false}}}},
{"mark":"rule","encoding":{"x":{"field":"gap","type":"quantitative","axis":{"title":null,"orient":"top","values":[3,4,5],"labels":false}},"y":{"datum":0.3,"type":"quantitative","axis":{"title":null,"orient":"right","values":[0.3,0.6,0.9],"labels":false}},"y2":{"datum":0.08}}},
{"mark":"point","encoding":{"x":{"field":"gap","type":"quantitative","axis":null},"y":{"datum":0.07,"type":"quantitative","axis":null}}},
{"mark":{"type":"text","angle":270,"align":"left","fontSize":14,"color":"#f0203a","baseline":{"expr":"datum.gap > 2.9 ? 'alphabetic' : 'top'"},"dx":5,"dy":{"expr":"datum.gap > 2.9 ? -3 : 3"}},"encoding":{"x":{"field":"gap","type":"quantitative","axis":null},"y":{"datum":0,"type":"quantitative","axis":null},"text":{"field":"t"}}},
{"mark":{"type":"text","align":"left","baseline":"middle","fontSize":11.5},"encoding":{"x":{"datum":2.68,"type":"quantitative","axis":null},"y":{"datum":1.04,"type":"quantitative","axis":null},"text":{"field":"n"}}}]},
{"data":{"name":"ann"},"transform":[{"filter":"datum.p=='o'"}],"width":118,"height":85,"resolve":{"axis":{"x":"independent","y":"independent"}},"layer":[
{"data":{"name":"s"},"transform":[{"filter":"datum.p=='o'"}],"mark":"line","encoding":{"x":{"field":"e","type":"quantitative","scale":{"domain":[2.5,5.5],"nice":false,"zero":false},"axis":{"title":null,"values":[3,4,5],"format":"d"}},"y":{"field":"i","type":"quantitative","scale":{"domain":[0,1.2],"nice":false},"axis":{"title":null,"values":[0.3,0.6,0.9],"labels":false}}}},
{"mark":"rule","encoding":{"x":{"field":"gap","type":"quantitative","axis":{"title":null,"orient":"top","values":[3,4,5],"labels":false}},"y":{"datum":0.3,"type":"quantitative","axis":{"title":null,"orient":"right","values":[0.3,0.6,0.9],"labels":false}},"y2":{"datum":0.08}}},
{"mark":"point","encoding":{"x":{"field":"gap","type":"quantitative","axis":null},"y":{"datum":0.07,"type":"quantitative","axis":null}}},
{"mark":{"type":"text","angle":270,"align":"left","fontSize":14,"color":"#f0203a","baseline":{"expr":"datum.gap > 2.9 ? 'alphabetic' : 'top'"},"dx":5,"dy":{"expr":"datum.gap > 2.9 ? -3 : 3"}},"encoding":{"x":{"field":"gap","type":"quantitative","axis":null},"y":{"datum":0,"type":"quantitative","axis":null},"text":{"field":"t"}}},
{"mark":{"type":"text","align":"left","baseline":"middle","fontSize":11.5},"encoding":{"x":{"datum":2.68,"type":"quantitative","axis":null},"y":{"datum":1.04,"type":"quantitative","axis":null},"text":{"field":"n"}}}]},
{"data":{"name":"ann"},"transform":[{"filter":"datum.p=='p'"}],"width":118,"height":85,"resolve":{"axis":{"x":"independent","y":"independent"}},"layer":[
{"data":{"name":"s"},"transform":[{"filter":"datum.p=='p'"}],"mark":"line","encoding":{"x":{"field":"e","type":"quantitative","scale":{"domain":[2.5,5.5],"nice":false,"zero":false},"axis":{"title":null,"values":[3,4,5],"format":"d"}},"y":{"field":"i","type":"quantitative","scale":{"domain":[0,1.2],"nice":false},"axis":{"title":null,"values":[0.3,0.6,0.9],"labels":false}}}},
{"mark":"rule","encoding":{"x":{"field":"gap","type":"quantitative","axis":{"title":null,"orient":"top","values":[3,4,5],"labels":false}},"y":{"datum":0.3,"type":"quantitative","axis":{"title":null,"orient":"right","values":[0.3,0.6,0.9],"labels":false}},"y2":{"datum":0.08}}},
{"mark":"point","encoding":{"x":{"field":"gap","type":"quantitative","axis":null},"y":{"datum":0.07,"type":"quantitative","axis":null}}},
{"mark":{"type":"text","angle":270,"align":"left","fontSize":14,"color":"#f0203a","baseline":{"expr":"datum.gap > 2.9 ? 'alphabetic' : 'top'"},"dx":5,"dy":{"expr":"datum.gap > 2.9 ? -3 : 3"}},"encoding":{"x":{"field":"gap","type":"quantitative","axis":null},"y":{"datum":0,"type":"quantitative","axis":null},"text":{"field":"t"}}},
{"mark":{"type":"text","align":"left","baseline":"middle","fontSize":11.5},"encoding":{"x":{"datum":2.68,"type":"quantitative","axis":null},"y":{"datum":1.04,"type":"quantitative","axis":null},"text":{"field":"n"}}}]}
]}],
"config":{
"view":{"stroke":"#000","strokeWidth":1.5},
"axis":{"grid":false,"domain":false,"tickSize":-4,"tickColor":"#000","tickWidth":1.2,"labelFont":"Liberation Sans","labelFontSize":15,"labelFontWeight":"bold","labelColor":"#000","labelPadding":2},
"line":{"color":"#3b5bf5","strokeWidth":1.6},
"rule":{"color":"#f0203a","strokeWidth":1.6},
"point":{"color":"#f0203a","filled":true,"shape":"triangle-down","size":60,"opacity":1},
"text":{"font":"Liberation Sans","fontWeight":"bold"},
"title":{"font":"Liberation Sans","fontSize":23,"fontWeight":"bold","color":"#000"}
}
}
